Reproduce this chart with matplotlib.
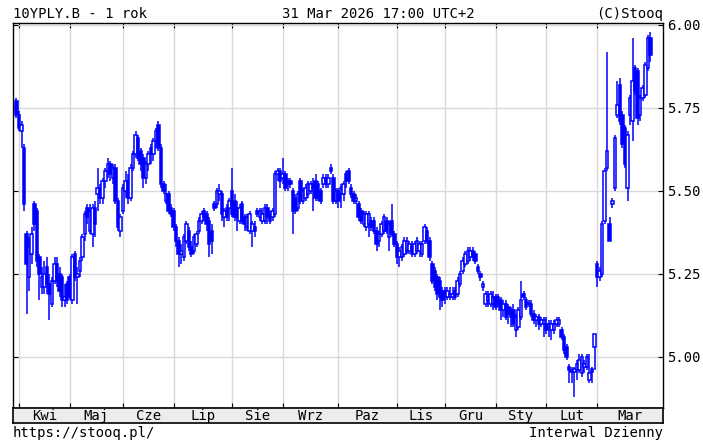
import matplotlib
matplotlib.use('Agg')
import matplotlib.pyplot as plt
import numpy as np

plt.rcParams['font.family'] = ['DejaVu Sans Mono']
plt.rcParams['font.size'] = 10

# swiece dzienne 10YPLY.B: 31.03.2025 .. 31.03.2026 (odczyt z wykresu)
opens = [
    5.77, 5.73, 5.68, 5.63, 5.37, 5.24, 5.31, 5.46, 5.44, 5.30, 5.21, 5.21, 5.27, 5.22, 5.16, 5.23, 5.28, 5.25, 5.24, 5.17, 5.22,
    5.24, 5.17, 5.31, 5.24, 5.26, 5.30, 5.37, 5.45, 5.38, 5.37, 5.45, 5.49, 5.51, 5.48, 5.53, 5.56, 5.58, 5.54, 5.57, 5.47, 5.38,
    5.44, 5.50, 5.53, 5.48, 5.57, 5.61, 5.66, 5.62, 5.60, 5.54, 5.58, 5.63, 5.61, 5.65, 5.70, 5.63, 5.52, 5.47, 5.49, 5.45,
    5.44, 5.39, 5.35, 5.31, 5.30, 5.35, 5.38, 5.33, 5.32, 5.34, 5.38, 5.41, 5.44, 5.43, 5.41, 5.38, 5.46, 5.46, 5.49, 5.49, 5.42, 5.45, 5.45,
    5.50, 5.47, 5.45, 5.41, 5.46, 5.42, 5.39, 5.38, 5.38, 5.39, 5.44, 5.42, 5.41, 5.41, 5.45, 5.42, 5.42, 5.43, 5.55, 5.56,
    5.54, 5.55, 5.53, 5.53, 5.50, 5.48, 5.45, 5.53, 5.47, 5.48, 5.49, 5.50, 5.52, 5.53, 5.52, 5.50, 5.52, 5.54, 5.52, 5.57, 5.54, 5.47,
    5.50, 5.49, 5.49, 5.55, 5.56, 5.51, 5.49, 5.47, 5.46, 5.44, 5.40, 5.39, 5.40, 5.41, 5.41, 5.38, 5.35, 5.37, 5.38, 5.41, 5.36, 5.41, 5.37,
    5.34, 5.30, 5.30, 5.31, 5.32, 5.32, 5.33, 5.31, 5.32, 5.32, 5.31, 5.35, 5.38, 5.35, 5.28, 5.26, 5.24, 5.23, 5.20,
    5.20, 5.18, 5.18, 5.18, 5.20, 5.19, 5.22, 5.26, 5.28, 5.29, 5.30, 5.32, 5.31, 5.27, 5.25, 5.21, 5.16, 5.17, 5.16, 5.16,
    5.18, 5.18, 5.17, 5.14, 5.16, 5.15, 5.14, 5.14, 5.08, 5.09, 5.12, 5.19, 5.17, 5.16, 5.16, 5.13, 5.11, 5.12, 5.10, 5.10,
    5.10, 5.09, 5.08, 5.08, 5.10, 5.10, 5.08, 5.06, 5.03, 4.97, 4.96, 4.955, 4.96, 4.96, 4.95, 4.97, 4.97, 4.93, 4.965, 5.03,
    5.28, 5.24, 5.25, 5.41, 5.57, 5.40, 5.46, 5.51, 5.73, 5.82, 5.73, 5.69, 5.51, 5.73, 5.71, 5.87, 5.86, 5.73, 5.78, 5.79, 5.87, 5.96,
]
highs = [
    5.78, 5.74, 5.71, 5.64, 5.38, 5.36, 5.39, 5.47, 5.45, 5.31, 5.27, 5.29, 5.30, 5.25, 5.24, 5.30, 5.30, 5.27, 5.25, 5.22, 5.23,
    5.25, 5.31, 5.32, 5.27, 5.30, 5.37, 5.44, 5.46, 5.46, 5.46, 5.47, 5.57, 5.52, 5.54, 5.57, 5.60, 5.59, 5.58, 5.58, 5.48, 5.43,
    5.52, 5.56, 5.55, 5.58, 5.62, 5.68, 5.67, 5.63, 5.61, 5.59, 5.62, 5.64, 5.66, 5.69, 5.71, 5.64, 5.53, 5.52, 5.50, 5.46,
    5.45, 5.40, 5.36, 5.34, 5.37, 5.41, 5.39, 5.35, 5.37, 5.38, 5.42, 5.44, 5.45, 5.44, 5.42, 5.40, 5.47, 5.51, 5.52, 5.50, 5.45, 5.46, 5.48,
    5.57, 5.49, 5.47, 5.46, 5.47, 5.43, 5.43, 5.44, 5.41, 5.41, 5.45, 5.45, 5.45, 5.46, 5.46, 5.44, 5.45, 5.56, 5.57, 5.57,
    5.60, 5.56, 5.54, 5.54, 5.51, 5.49, 5.50, 5.54, 5.51, 5.52, 5.53, 5.53, 5.54, 5.55, 5.53, 5.51, 5.55, 5.55, 5.55, 5.58, 5.55, 5.51,
    5.51, 5.52, 5.53, 5.56, 5.57, 5.52, 5.50, 5.49, 5.47, 5.45, 5.44, 5.44, 5.44, 5.42, 5.42, 5.39, 5.38, 5.41, 5.43, 5.42, 5.41, 5.46, 5.38,
    5.35, 5.33, 5.34, 5.36, 5.36, 5.35, 5.35, 5.35, 5.36, 5.35, 5.35, 5.40, 5.39, 5.36, 5.29, 5.27, 5.25, 5.24, 5.21,
    5.21, 5.21, 5.21, 5.21, 5.21, 5.24, 5.26, 5.30, 5.32, 5.33, 5.33, 5.33, 5.32, 5.28, 5.26, 5.23, 5.20, 5.20, 5.20, 5.20,
    5.19, 5.19, 5.18, 5.17, 5.17, 5.16, 5.15, 5.16, 5.13, 5.15, 5.23, 5.20, 5.18, 5.17, 5.17, 5.14, 5.13, 5.13, 5.12, 5.12,
    5.12, 5.11, 5.11, 5.11, 5.12, 5.12, 5.09, 5.07, 5.04, 4.98, 4.97, 4.97, 4.99, 5.01, 5.01, 4.99, 5.01, 5.01, 4.97, 5.07,
    5.29, 5.27, 5.41, 5.57, 5.92, 5.42, 5.48, 5.67, 5.83, 5.84, 5.74, 5.70, 5.68, 5.79, 5.96, 5.88, 5.87, 5.79, 5.82, 5.89, 5.97, 5.98,
]
lows = [
    5.72, 5.68, 5.63, 5.44, 5.13, 5.20, 5.28, 5.38, 5.27, 5.17, 5.19, 5.19, 5.19, 5.11, 5.15, 5.22, 5.21, 5.18, 5.15, 5.15, 5.16,
    5.17, 5.16, 5.23, 5.16, 5.24, 5.29, 5.35, 5.40, 5.37, 5.33, 5.36, 5.44, 5.46, 5.46, 5.51, 5.54, 5.53, 5.52, 5.46, 5.38, 5.36,
    5.43, 5.48, 5.46, 5.47, 5.56, 5.60, 5.59, 5.56, 5.51, 5.52, 5.56, 5.58, 5.59, 5.63, 5.62, 5.51, 5.49, 5.46, 5.43, 5.42,
    5.38, 5.33, 5.27, 5.28, 5.29, 5.34, 5.32, 5.30, 5.31, 5.33, 5.37, 5.40, 5.41, 5.38, 5.30, 5.31, 5.44, 5.45, 5.47, 5.41, 5.39, 5.41, 5.41,
    5.42, 5.41, 5.38, 5.40, 5.40, 5.38, 5.38, 5.37, 5.33, 5.36, 5.42, 5.41, 5.40, 5.40, 5.40, 5.40, 5.41, 5.42, 5.53, 5.51,
    5.52, 5.50, 5.50, 5.51, 5.37, 5.43, 5.44, 5.46, 5.46, 5.47, 5.48, 5.49, 5.44, 5.47, 5.47, 5.46, 5.51, 5.51, 5.51, 5.55, 5.46, 5.46,
    5.45, 5.45, 5.47, 5.51, 5.52, 5.48, 5.46, 5.46, 5.41, 5.40, 5.39, 5.38, 5.36, 5.38, 5.37, 5.32, 5.33, 5.36, 5.37, 5.37, 5.32, 5.36, 5.33,
    5.28, 5.27, 5.29, 5.30, 5.31, 5.31, 5.30, 5.30, 5.31, 5.30, 5.30, 5.34, 5.34, 5.29, 5.22, 5.20, 5.17, 5.14, 5.15,
    5.16, 5.17, 5.17, 5.17, 5.17, 5.18, 5.21, 5.25, 5.27, 5.28, 5.29, 5.29, 5.28, 5.25, 5.23, 5.20, 5.15, 5.15, 5.15, 5.14,
    5.14, 5.15, 5.11, 5.12, 5.11, 5.10, 5.09, 5.09, 5.06, 5.08, 5.11, 5.17, 5.14, 5.15, 5.12, 5.10, 5.09, 5.08, 5.09, 5.06,
    5.07, 5.06, 5.05, 5.07, 5.09, 5.09, 5.05, 5.01, 4.99, 4.92, 4.92, 4.88, 4.93, 4.95, 4.94, 4.95, 4.96, 4.92, 4.92, 4.96,
    5.21, 5.23, 5.24, 5.40, 5.56, 5.35, 5.45, 5.50, 5.72, 5.70, 5.63, 5.57, 5.47, 5.70, 5.65, 5.79, 5.70, 5.71, 5.77, 5.78, 5.86, 5.89,
]
closes = [
    5.73, 5.69, 5.70, 5.46, 5.28, 5.33, 5.37, 5.40, 5.29, 5.25, 5.24, 5.25, 5.22, 5.19, 5.23, 5.28, 5.23, 5.20, 5.17, 5.18, 5.17,
    5.18, 5.30, 5.24, 5.25, 5.29, 5.36, 5.43, 5.42, 5.44, 5.45, 5.40, 5.51, 5.48, 5.53, 5.56, 5.58, 5.55, 5.57, 5.47, 5.39, 5.42,
    5.51, 5.53, 5.48, 5.57, 5.61, 5.67, 5.60, 5.58, 5.54, 5.58, 5.61, 5.61, 5.65, 5.68, 5.63, 5.52, 5.50, 5.49, 5.44, 5.43,
    5.39, 5.35, 5.31, 5.32, 5.36, 5.40, 5.33, 5.31, 5.36, 5.37, 5.41, 5.43, 5.42, 5.40, 5.34, 5.35, 5.45, 5.50, 5.50, 5.43, 5.44, 5.42, 5.47,
    5.43, 5.42, 5.42, 5.45, 5.41, 5.40, 5.42, 5.43, 5.40, 5.38, 5.43, 5.44, 5.43, 5.45, 5.42, 5.41, 5.44, 5.55, 5.56, 5.53,
    5.55, 5.51, 5.52, 5.52, 5.44, 5.44, 5.49, 5.47, 5.50, 5.51, 5.52, 5.52, 5.51, 5.48, 5.48, 5.47, 5.54, 5.52, 5.54, 5.56, 5.47, 5.50,
    5.47, 5.51, 5.52, 5.53, 5.53, 5.49, 5.47, 5.48, 5.42, 5.41, 5.43, 5.43, 5.43, 5.39, 5.38, 5.34, 5.37, 5.40, 5.42, 5.38, 5.40, 5.37, 5.34,
    5.30, 5.32, 5.33, 5.35, 5.35, 5.34, 5.31, 5.34, 5.35, 5.34, 5.34, 5.39, 5.35, 5.30, 5.23, 5.21, 5.19, 5.18, 5.17,
    5.18, 5.20, 5.19, 5.19, 5.18, 5.23, 5.25, 5.29, 5.31, 5.32, 5.32, 5.30, 5.29, 5.26, 5.24, 5.22, 5.19, 5.18, 5.19, 5.18,
    5.15, 5.16, 5.14, 5.16, 5.12, 5.13, 5.12, 5.10, 5.12, 5.14, 5.17, 5.18, 5.15, 5.16, 5.13, 5.11, 5.12, 5.10, 5.11, 5.11,
    5.08, 5.10, 5.10, 5.10, 5.11, 5.11, 5.06, 5.02, 5.00, 4.96, 4.955, 4.965, 4.98, 4.99, 5.00, 4.98, 5.00, 4.95, 4.955, 5.07,
    5.24, 5.26, 5.40, 5.56, 5.62, 5.35, 5.47, 5.66, 5.76, 5.71, 5.64, 5.58, 5.67, 5.78, 5.83, 5.80, 5.72, 5.78, 5.81, 5.88, 5.96, 5.91,
]

# indeks pierwszej sesji kazdego miesiaca
month_starts = [1, 21, 42, 62, 85, 105, 127, 150, 169, 189, 209, 229]
month_labels = ['Kwi', 'Maj', 'Cze', 'Lip', 'Sie', 'Wrz', 'Paz', 'Lis', 'Gru', 'Sty', 'Lut', 'Mar']
y_levels = [5.00, 5.25, 5.50, 5.75, 6.00]

W, H = 703, 442
L_PX, R_PX, T_PX, B_PX, BAND_PX = 13, 663, 23, 408, 423
XMIN, XMAX = -1.38, 255.0
blue = '#0000ff'

fig = plt.figure(figsize=(W / 100, H / 100), dpi=100)
ax = fig.add_axes([L_PX / W, 1 - B_PX / H, (R_PX - L_PX) / W, (B_PX - T_PX) / H])
axb = fig.add_axes([L_PX / W, 1 - BAND_PX / H, (R_PX - L_PX) / W, (BAND_PX - B_PX) / H])

o = np.array(opens)
h = np.array(highs)
l = np.array(lows)
c = np.array(closes)
idx = np.arange(len(c))

# knoty + korpusy (wzrost = pusty, spadek = wypelniony)
ax.vlines(idx, l, h, color=blue, linewidth=1.1, zorder=2)
body_bottom = np.minimum(o, c)
body_height = np.maximum(np.abs(c - o), 0.003)
fills = ['white' if cc >= oo else blue for oo, cc in zip(o, c)]
ax.bar(idx, body_height, bottom=body_bottom, width=1.0, color=fills,
       edgecolor=blue, linewidth=1.1, zorder=3)

ax.set_xlim(XMIN, XMAX)
ax.set_ylim(4.846, 6.006)
ax.set_xticks(month_starts)
ax.set_yticks(y_levels)
ax.set_yticklabels([f'{v:.2f}' for v in y_levels])
ax.tick_params(axis='both', direction='in', length=3.5, width=0.8, color='black',
               top=True, bottom=True, left=True, right=True,
               labelbottom=False, labelleft=False, labelright=True, pad=3)
ax.grid(True, color='#d9d9d9', linewidth=1.0)
ax.set_axisbelow(True)
for s in ax.spines.values():
    s.set_color('black')
    s.set_linewidth(1.0)

# pasek z nazwami miesiecy
axb.set_facecolor('#ececec')
axb.set_xlim(XMIN, XMAX)
axb.set_ylim(0, 1)
axb.set_xticks([])
axb.set_yticks([])
for s in axb.spines.values():
    s.set_color('black')
    s.set_linewidth(1.2)
edges = month_starts + [XMAX]
for k, name in enumerate(month_labels):
    axb.text((edges[k] + edges[k + 1]) / 2, 0.45, name, ha='center', va='center', fontsize=10)

# napisy
fig.text(L_PX / W, 1 - 18 / H, '10YPLY.B - 1 rok', ha='left', va='baseline')
fig.text(282 / W, 1 - 18 / H, '31 Mar 2026 17:00 UTC+2', ha='left', va='baseline')
fig.text(R_PX / W, 1 - 18 / H, '(C)Stooq', ha='right', va='baseline')
fig.text(L_PX / W, 1 - 437 / H, 'https://stooq.pl/', ha='left', va='baseline')
fig.text(R_PX / W, 1 - 437 / H, 'Interwal Dzienny', ha='right', va='baseline')

fig.savefig('out.png', dpi=100)
